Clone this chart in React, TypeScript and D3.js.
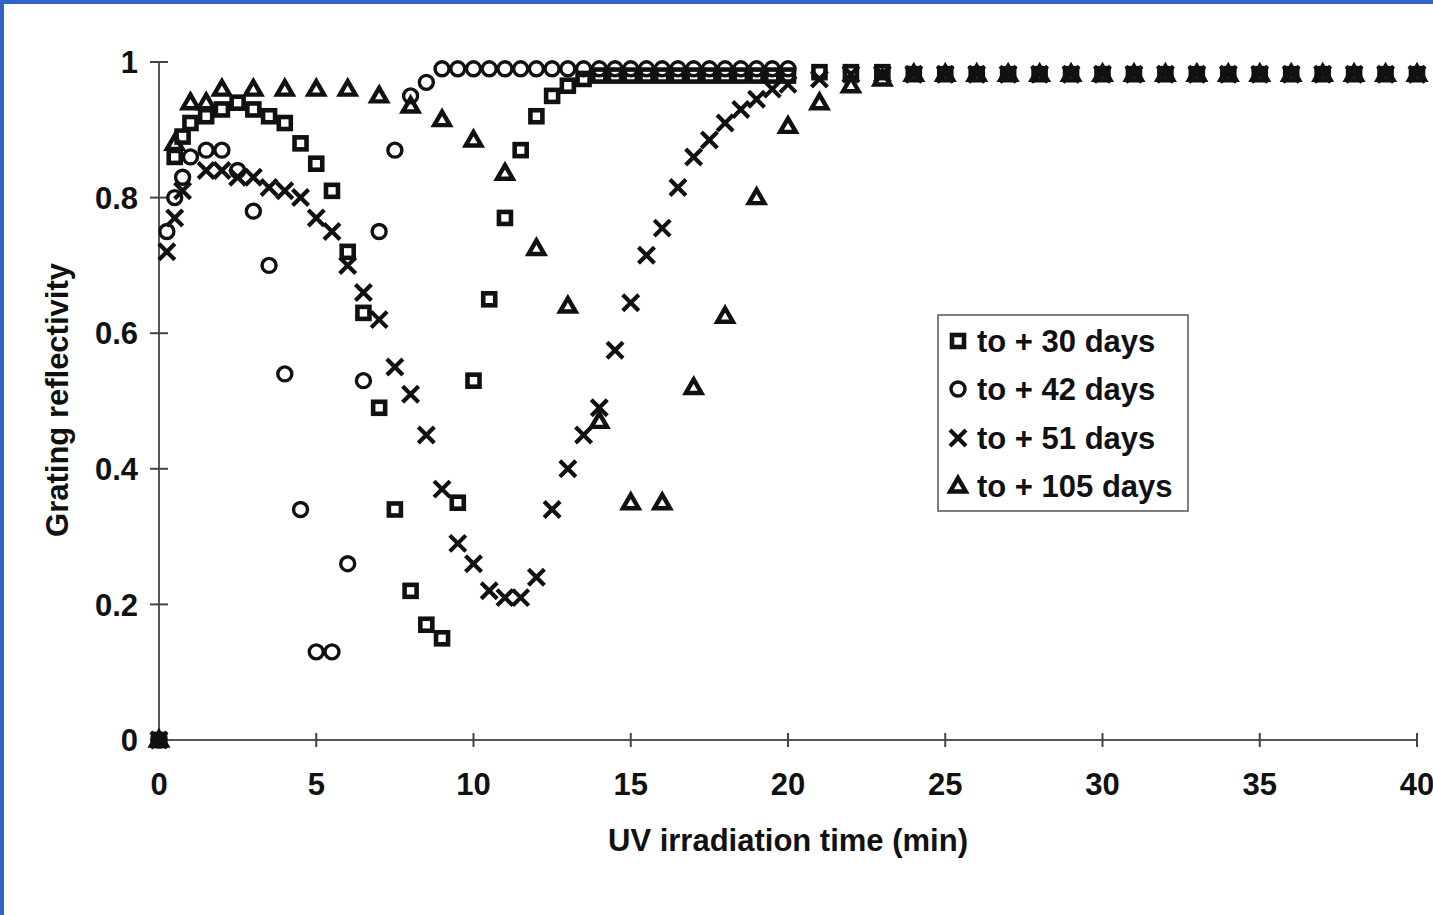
import React from "react";
import * as d3 from "d3";

// ---------- data ----------
const xTicks = [0, 5, 10, 15, 20, 25, 30, 35, 40];
const yTicks = [0, 0.2, 0.4, 0.6, 0.8, 1];
const yTickLabels = ["0", "0.2", "0.4", "0.6", "0.8", "1"];

const seriesNames = ["to + 30 days", "to + 42 days", "to + 51 days", "to + 105 days"];

const days30: [number, number][] = [
  [0, 0], [0.5, 0.86], [0.75, 0.89], [1, 0.91], [1.5, 0.92], [2, 0.93], [2.5, 0.94], [3, 0.93],
  [3.5, 0.92], [4, 0.91], [4.5, 0.88], [5, 0.85], [5.5, 0.81], [6, 0.72], [6.5, 0.63], [7, 0.49],
  [7.5, 0.34], [8, 0.22], [8.5, 0.17], [9, 0.15], [9.5, 0.35], [10, 0.53], [10.5, 0.65], [11, 0.77],
  [11.5, 0.87], [12, 0.92], [12.5, 0.95], [13, 0.965], [13.5, 0.975], [14, 0.98], [14.5, 0.98],
  [15, 0.98], [15.5, 0.98], [16, 0.98], [16.5, 0.98], [17, 0.98], [17.5, 0.98], [18, 0.98],
  [18.5, 0.98], [19, 0.98], [19.5, 0.98], [20, 0.98], [21, 0.985], [22, 0.985], [23, 0.985],
  [24, 0.982], [25, 0.982], [26, 0.982], [27, 0.982], [28, 0.982], [29, 0.982], [30, 0.982],
  [31, 0.982], [32, 0.982], [33, 0.982], [34, 0.982], [35, 0.982], [36, 0.982], [37, 0.982],
  [38, 0.982], [39, 0.982], [40, 0.982],
];

const days42: [number, number][] = [
  [0, 0], [0.25, 0.75], [0.5, 0.8], [0.75, 0.83], [1, 0.86], [1.5, 0.87], [2, 0.87], [2.5, 0.84],
  [3, 0.78], [3.5, 0.7], [4, 0.54], [4.5, 0.34], [5, 0.13], [5.5, 0.13], [6, 0.26], [6.5, 0.53],
  [7, 0.75], [7.5, 0.87], [8, 0.95], [8.5, 0.97], [9, 0.99], [9.5, 0.99], [10, 0.99], [10.5, 0.99],
  [11, 0.99], [11.5, 0.99], [12, 0.99], [12.5, 0.99], [13, 0.99], [13.5, 0.99], [14, 0.99],
  [14.5, 0.99], [15, 0.99], [15.5, 0.99], [16, 0.99], [16.5, 0.99], [17, 0.99], [17.5, 0.99],
  [18, 0.99], [18.5, 0.99], [19, 0.99], [19.5, 0.99], [20, 0.99],
];

const days51: [number, number][] = [
  [0, 0], [0.25, 0.72], [0.5, 0.77], [0.75, 0.81], [1.5, 0.84], [2, 0.84], [2.5, 0.83], [3, 0.83],
  [3.5, 0.815], [4, 0.81], [4.5, 0.8], [5, 0.77], [5.5, 0.75], [6, 0.7], [6.5, 0.66], [7, 0.62],
  [7.5, 0.55], [8, 0.51], [8.5, 0.45], [9, 0.37], [9.5, 0.29], [10, 0.26], [10.5, 0.22], [11, 0.21],
  [11.5, 0.21], [12, 0.24], [12.5, 0.34], [13, 0.4], [13.5, 0.45], [14, 0.49], [14.5, 0.575],
  [15, 0.645], [15.5, 0.715], [16, 0.755], [16.5, 0.815], [17, 0.86], [17.5, 0.885], [18, 0.91],
  [18.5, 0.93], [19, 0.945], [19.5, 0.96], [20, 0.967], [21, 0.975], [22, 0.982], [23, 0.982],
  [24, 0.982], [25, 0.982], [26, 0.982], [27, 0.982], [28, 0.982], [29, 0.982], [30, 0.982],
  [31, 0.982], [32, 0.982], [33, 0.982], [34, 0.982], [35, 0.982], [36, 0.982], [37, 0.982],
  [38, 0.982], [39, 0.982], [40, 0.982],
];

const days105: [number, number][] = [
  [0, 0], [0.5, 0.88], [1, 0.94], [1.5, 0.94], [2, 0.96], [3, 0.96], [4, 0.96], [5, 0.96],
  [6, 0.96], [7, 0.95], [8, 0.935], [9, 0.915], [10, 0.885], [11, 0.836], [12, 0.725],
  [13, 0.64], [14, 0.47], [15, 0.35], [16, 0.35], [17, 0.52], [18, 0.625], [19, 0.8],
  [20, 0.905], [21, 0.94], [22, 0.965], [23, 0.975], [24, 0.982], [25, 0.982], [26, 0.982],
  [27, 0.982], [28, 0.982], [29, 0.982], [30, 0.982], [31, 0.982], [32, 0.982], [33, 0.982],
  [34, 0.982], [35, 0.982], [36, 0.982], [37, 0.982], [38, 0.982], [39, 0.982], [40, 0.982],
];

// ---------- layout ----------
const W = 1433;
const H = 915;
const X0 = 159;
const X1 = 1417;
const Y0 = 740;
const Y1 = 62;
const FONT = "'Liberation Sans', Arial, sans-serif";
const INK = "#111";

const x = d3.scaleLinear().domain([0, 40]).range([X0, X1]);
const y = d3.scaleLinear().domain([0, 1]).range([Y0, Y1]);

const triPath = d3.symbol(d3.symbolTriangle, 105)() as string;

type Kind = "square" | "circle" | "x" | "triangle";

function Marker({ kind, cx, cy }: { kind: Kind; cx: number; cy: number }) {
  if (kind === "square") {
    return (
      <rect x={cx - 6} y={cy - 6} width={12} height={12} fill="none" stroke={INK} strokeWidth={4.6} />
    );
  }
  if (kind === "circle") {
    return <circle cx={cx} cy={cy} r={7} fill="none" stroke={INK} strokeWidth={3.4} />;
  }
  if (kind === "x") {
    const s = 8;
    return (
      <path
        d={`M${cx - s},${cy - s}L${cx + s},${cy + s}M${cx - s},${cy + s}L${cx + s},${cy - s}`}
        fill="none"
        stroke={INK}
        strokeWidth={4.2}
      />
    );
  }
  return (
    <path d={triPath} transform={`translate(${cx},${cy + 1})`} fill="none" stroke={INK} strokeWidth={4.4} strokeLinejoin="miter" />
  );
}

const series: { data: [number, number][]; kind: Kind }[] = [
  { data: days30, kind: "square" },
  { data: days42, kind: "circle" },
  { data: days51, kind: "x" },
  { data: days105, kind: "triangle" },
];

export default function App() {
  const legendX = 938;
  const legendY = 315;
  const legendRows = [341, 389, 438, 486];
  return (
    <svg
      width={W}
      height={H}
      style={{ position: "absolute", left: 0, top: 0, display: "block", background: "#fff" }}
      fontFamily={FONT}
    >
      <rect x={0} y={0} width={W} height={H} fill="#fff" />
      {/* axes */}
      <line x1={X0} y1={Y1} x2={X0} y2={Y0} stroke="#555" strokeWidth={2} />
      <line x1={X0} y1={Y0} x2={X1} y2={Y0} stroke="#555" strokeWidth={2} />
      {yTicks.map((t, i) => (
        <g key={"yt" + i}>
          <line x1={X0 - 9} x2={X0 + 9} y1={y(t)} y2={y(t)} stroke="#444" strokeWidth={2} />
          <text x={138} y={y(t)} dy="0.36em" textAnchor="end" fontSize={31} fontWeight="bold" fill={INK}>
            {yTickLabels[i]}
          </text>
        </g>
      ))}
      {xTicks.map((t, i) => (
        <g key={"xt" + i}>
          <line x1={x(t)} x2={x(t)} y1={Y0 - 7} y2={Y0 + 7} stroke="#444" strokeWidth={2} />
          <text x={x(t)} y={795} textAnchor="middle" fontSize={31} fontWeight="bold" fill={INK}>
            {t}
          </text>
        </g>
      ))}
      <text x={788} y={851} textAnchor="middle" fontSize={31} fontWeight="bold" fill={INK}>
        UV irradiation time (min)
      </text>
      <text
        transform={`translate(68,400) rotate(-90)`}
        textAnchor="middle"
        fontSize={31}
        fontWeight="bold"
        fill={INK}
      >
        Grating reflectivity
      </text>

      {/* points */}
      {series.map((s, si) => (
        <g key={"s" + si}>
          {s.data.map((d, i) => (
            <Marker key={i} kind={s.kind} cx={x(d[0])} cy={y(d[1])} />
          ))}
        </g>
      ))}

      {/* legend */}
      <rect x={legendX} y={legendY} width={250} height={196} fill="#fff" stroke="#555" strokeWidth={1.5} />
      {series.map((s, i) => (
        <g key={"lg" + i}>
          <Marker kind={s.kind} cx={958} cy={legendRows[i]} />
          <text x={977} y={legendRows[i]} dy="0.36em" fontSize={31} fontWeight="bold" fill={INK}>
            {seriesNames[i]}
          </text>
        </g>
      ))}

      {/* blue frame */}
      <rect x={0} y={0} width={W} height={4} fill="#3262c6" />
      <rect x={0} y={0} width={4} height={H} fill="#3262c6" />
    </svg>
  );
}
